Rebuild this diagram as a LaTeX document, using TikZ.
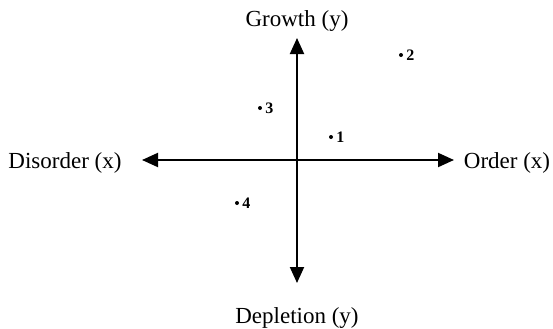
\documentclass[tikz,border=0pt]{standalone}
\usepackage{fontspec}
\setmainfont{Liberation Serif}
\usetikzlibrary{arrows.meta}

\begin{document}
\begin{tikzpicture}[x=0.5pt,y=0.5pt,
		axis/.style={line width=1pt,-{Triangle[length=8pt,width=7pt]}},
		axislabel/.style={font=\fontsize{11.5}{14}\selectfont},
		ptlabel/.style={right,inner sep=2.5pt,font=\fontsize{8}{9}\selectfont\bfseries}]
			\useasboundingbox (0,0) rectangle (553,328);
			\coordinate (O) at (297,168);
			\coordinate (N) at (297,290);
			\coordinate (S) at (297,45);
			\coordinate (W) at (142,168);
			\coordinate (E) at (454,168);
			\coordinate (P1) at (331,191);
			\coordinate (P2) at (401,273);
			\coordinate (P3) at (260,220);
			\coordinate (P4) at (237,125);
			
			\draw[axis] (O)--(N);
			\draw[axis] (O)--(S);
			\draw[axis] (O)--(W);
			\draw[axis] (O)--(E);
			
			\node[axislabel] (growth) at (297,307) {Growth (y)};
			\node[axislabel] (depletion) at (297,10) {Depletion (y)};
			\node[axislabel] (disorder) at (65,165) {Disorder (x)};
			\node[axislabel] (order) at (507,165) {Order (x)};
			
			\node[ptlabel] (l1) at (P1) {1};
			\node[ptlabel] (l2) at (P2) {2};
			\node[ptlabel] (l3) at (P3) {3};
			\node[ptlabel] (l4) at (P4) {4};
			
			\fill (P1) circle (2);
			\fill (P2) circle (2);
			\fill (P3) circle (2);
			\fill (P4) circle (2);
		\end{tikzpicture}
\end{document}
